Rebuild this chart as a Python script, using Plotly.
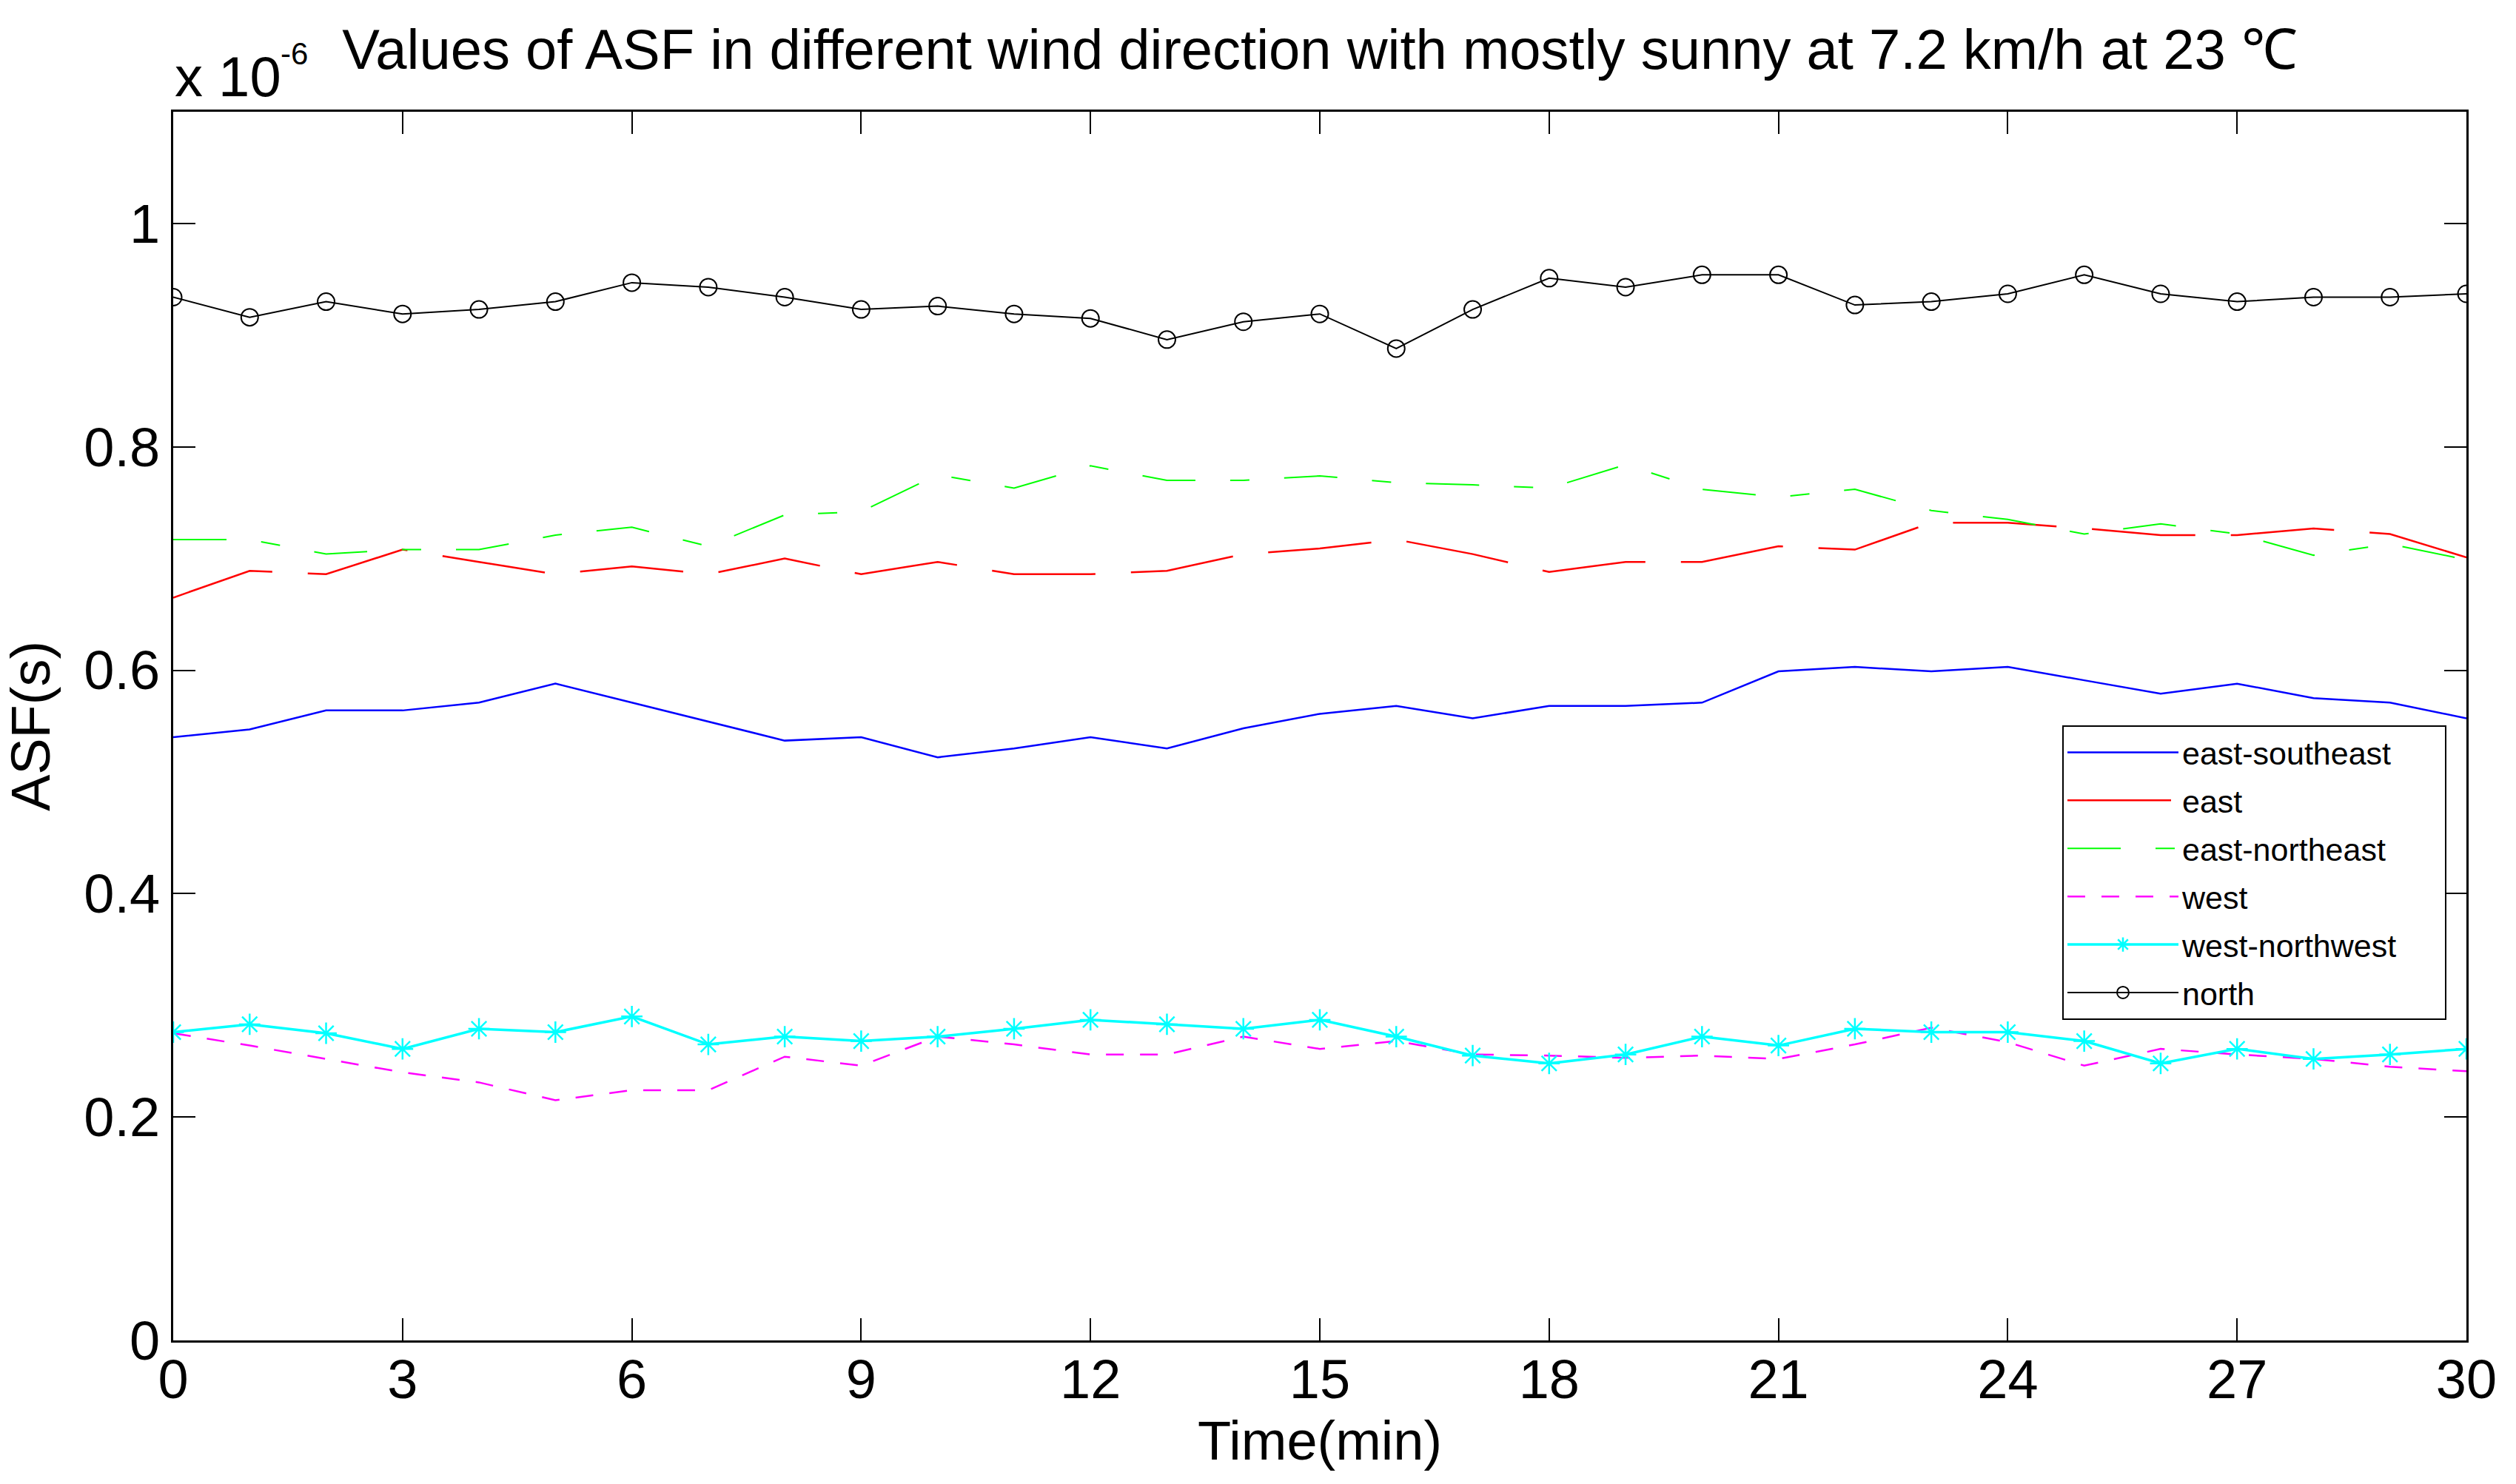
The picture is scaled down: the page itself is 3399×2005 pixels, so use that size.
import plotly.graph_objects as go

# ---- data (ASF values in units of 1e-6 s) ----
time_min = list(range(31))
SCALE = 1e-6

east_southeast = [0.540, 0.547, 0.564, 0.564, 0.571, 0.588, 0.571, 0.554, 0.537, 0.540, 0.522,
                  0.530, 0.540, 0.530, 0.548, 0.561, 0.568, 0.557, 0.568, 0.568, 0.571,
                  0.599, 0.603, 0.599, 0.603, 0.591, 0.579, 0.588, 0.575, 0.571, 0.557]
east = [0.665, 0.689, 0.686, 0.708, 0.697, 0.686, 0.693, 0.686, 0.700, 0.686, 0.697,
        0.686, 0.686, 0.689, 0.704, 0.709, 0.717, 0.704, 0.688, 0.697, 0.697,
        0.711, 0.708, 0.732, 0.732, 0.727, 0.721, 0.721, 0.727, 0.722, 0.701]
east_northeast = [0.717, 0.717, 0.704, 0.708, 0.708, 0.721, 0.728, 0.711, 0.739, 0.742, 0.775,
                  0.763, 0.783, 0.770, 0.770, 0.774, 0.768, 0.766, 0.763, 0.784, 0.762,
                  0.755, 0.762, 0.743, 0.735, 0.722, 0.731, 0.722, 0.703, 0.713, 0.699]
west = [0.275, 0.264, 0.252, 0.240, 0.231, 0.215, 0.224, 0.224, 0.254, 0.246, 0.272,
        0.265, 0.256, 0.256, 0.272, 0.261, 0.268, 0.256, 0.255, 0.253, 0.255,
        0.252, 0.265, 0.280, 0.267, 0.246, 0.261, 0.256, 0.252, 0.245, 0.241]
west_northwest = [0.276, 0.283, 0.275, 0.261, 0.279, 0.276, 0.290, 0.265, 0.272, 0.268, 0.272,
                  0.279, 0.287, 0.283, 0.279, 0.287, 0.272, 0.255, 0.248, 0.256, 0.272,
                  0.264, 0.279, 0.276, 0.276, 0.268, 0.248, 0.261, 0.252, 0.256, 0.261]
north = [0.934, 0.916, 0.930, 0.919, 0.923, 0.930, 0.947, 0.943, 0.934, 0.923, 0.926,
         0.919, 0.915, 0.896, 0.912, 0.919, 0.888, 0.923, 0.951, 0.943, 0.954,
         0.954, 0.927, 0.930, 0.937, 0.954, 0.937, 0.930, 0.934, 0.934, 0.937]

x_ticks = [0, 3, 6, 9, 12, 15, 18, 21, 24, 27, 30]
y_ticks = [0, 0.2, 0.4, 0.6, 0.8, 1.0]
y_tick_labels = ["0", "0.2", "0.4", "0.6", "0.8", "1"]

FONT = "Liberation Sans, Arial, Helvetica, sans-serif"
PAD = "\u00a0" * 5  # right padding inside the legend box

series = [
    ("east-southeast", east_southeast, dict(color="#0000FF", width=2.5, dash="solid"), None),
    ("east", east, dict(color="#FF0000", width=2.5, dash="140px,48px"), None),
    ("east-northeast", east_northeast, dict(color="#00FF00", width=2, dash="72px,47px,26px,47px"), None),
    ("west", west, dict(color="#FF00FF", width=2.5, dash="24px,22px"), None),
    ("west-northwest", west_northwest, dict(color="#00FFFF", width=3.5, dash="solid"),
     dict(symbol="asterisk-open", size=24, color="#00FFFF", line=dict(color="#00FFFF", width=2.5))),
    ("north", north, dict(color="#000000", width=2, dash="solid"),
     dict(symbol="circle-open", size=23, color="#000000", line=dict(color="#000000", width=2))),
]

fig = go.Figure()
for name, vals, line, marker in series:
    kw = dict(x=time_min, y=[v * SCALE for v in vals], name=name + PAD, line=line,
              legendgroup=name)
    if marker is None:
        kw["mode"] = "lines"
    else:
        kw["mode"] = "lines+markers"
        kw["marker"] = marker
    fig.add_trace(go.Scatter(**kw))

axis_common = dict(showline=True, linecolor="black", linewidth=3, mirror="ticks",
                   ticks="inside", ticklen=30, tickwidth=1.5, tickcolor="black",
                   showgrid=False, zeroline=False,
                   tickfont=dict(family=FONT, size=74, color="black"))

fig.update_layout(
    width=3399, height=2005,
    margin=dict(l=234, r=67, t=151, b=194),
    paper_bgcolor="white", plot_bgcolor="white",
    font=dict(family=FONT, color="black"),
    title=dict(text="Values of ASF in different wind direction with mostly sunny at 7.2 km/h at 23 ℃",
               x=(234 + 3332) / 2 / 3399, xanchor="center", xref="container",
               y=1 - 66 / 2005, yanchor="middle", yref="container",
               font=dict(family=FONT, size=76, color="black")),
    xaxis=dict(range=[0, 30], tickvals=x_ticks, ticklabelstandoff=-14,
               title=dict(text="Time(min)", font=dict(family=FONT, size=74, color="black"), standoff=2),
               **axis_common),
    yaxis=dict(range=[0, 1.1 * SCALE], tickvals=[t * SCALE for t in y_ticks], ticktext=y_tick_labels,
               title=dict(text="ASF(s)", font=dict(family=FONT, size=74, color="black"), standoff=28),
               **axis_common),
    legend=dict(x=(2786 - 234) / 3098, y=(1811 - 980) / 1660, xanchor="left", yanchor="top",
                bgcolor="white", bordercolor="black", borderwidth=2,
                font=dict(family=FONT, size=43, color="black"),
                tracegroupgap=6, itemwidth=150),
    showlegend=True,
)

# axis exponent label "x 10^-6" (MATLAB style), base and raised exponent
fig.add_annotation(text="x 10", xref="paper", yref="paper", x=0, y=(1811 - 104) / 1660,
                   xanchor="left", yanchor="middle", showarrow=False,
                   font=dict(family=FONT, size=76, color="black"))
fig.add_annotation(text="-6", xref="paper", yref="paper", x=(377 - 234) / 3098, y=(1811 - 72) / 1660,
                   xanchor="left", yanchor="middle", showarrow=False,
                   font=dict(family=FONT, size=42, color="black"))

fig.write_html("out.html", config={"displayModeBar": False},
               post_script="document.body.style.margin='0';")
